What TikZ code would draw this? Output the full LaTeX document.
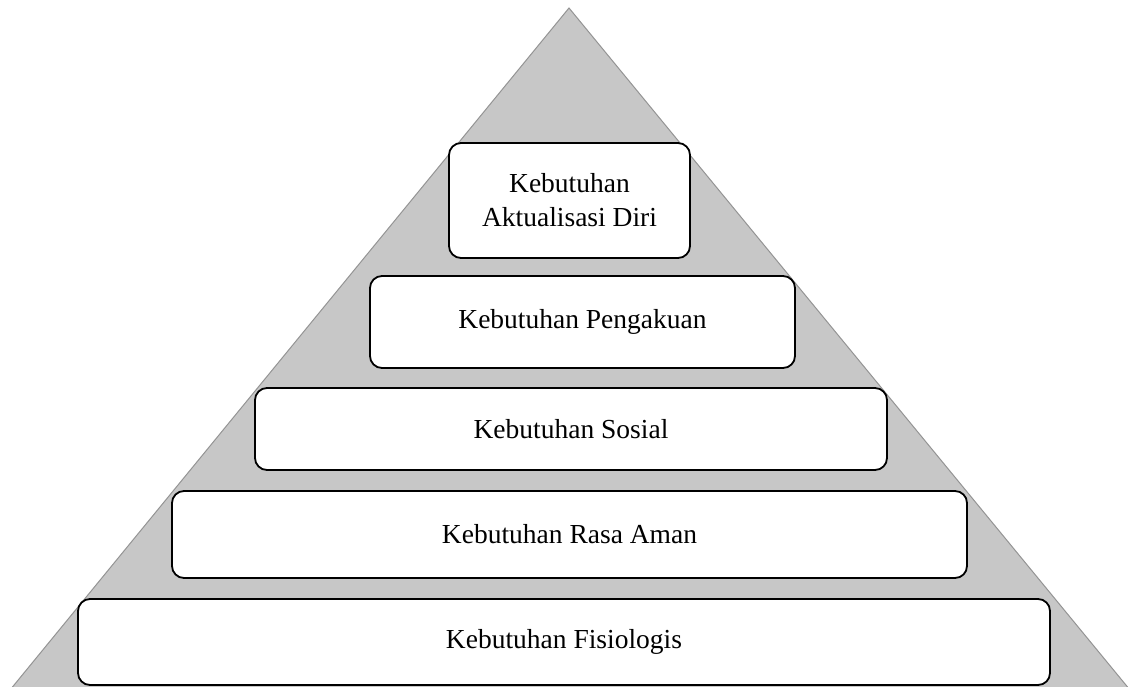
\documentclass[tikz,border=0pt]{standalone}
\usepackage{fontspec}
\setmainfont{Liberation Serif}
\begin{document}
\begin{tikzpicture}[x=1pt,y=-1pt,
  level/.style={draw=black,line width=1.8pt,rounded corners=12pt,fill=white,
    align=center,font=\fontsize{27.5}{34}\selectfont,inner sep=0pt},
  pyr/.style={fill=black!22,draw=black!42,line width=1pt}]
\useasboundingbox (0,0) rectangle (1131,687);
\coordinate (apex) at (569,8);
\coordinate (bl) at (10,690);
\coordinate (br) at (1130,690);
\fill[pyr] (bl) -- (apex) -- (br);
\node[level,minimum width=241pt,minimum height=115pt] (l5) at (569.5,200.5) {Kebutuhan\\Aktualisasi Diri};
\node[level,minimum width=425pt,minimum height=92pt] (l4) at (582.5,322) {Kebutuhan Pengakuan};
\node[level,minimum width=632pt,minimum height=82pt] (l3) at (571,429) {Kebutuhan Sosial};
\node[level,minimum width=795pt,minimum height=87pt] (l2) at (569.5,534.5) {Kebutuhan Rasa Aman};
\node[level,minimum width=972pt,minimum height=86pt] (l1) at (564,642) {Kebutuhan Fisiologis};
\end{tikzpicture}
\end{document}
